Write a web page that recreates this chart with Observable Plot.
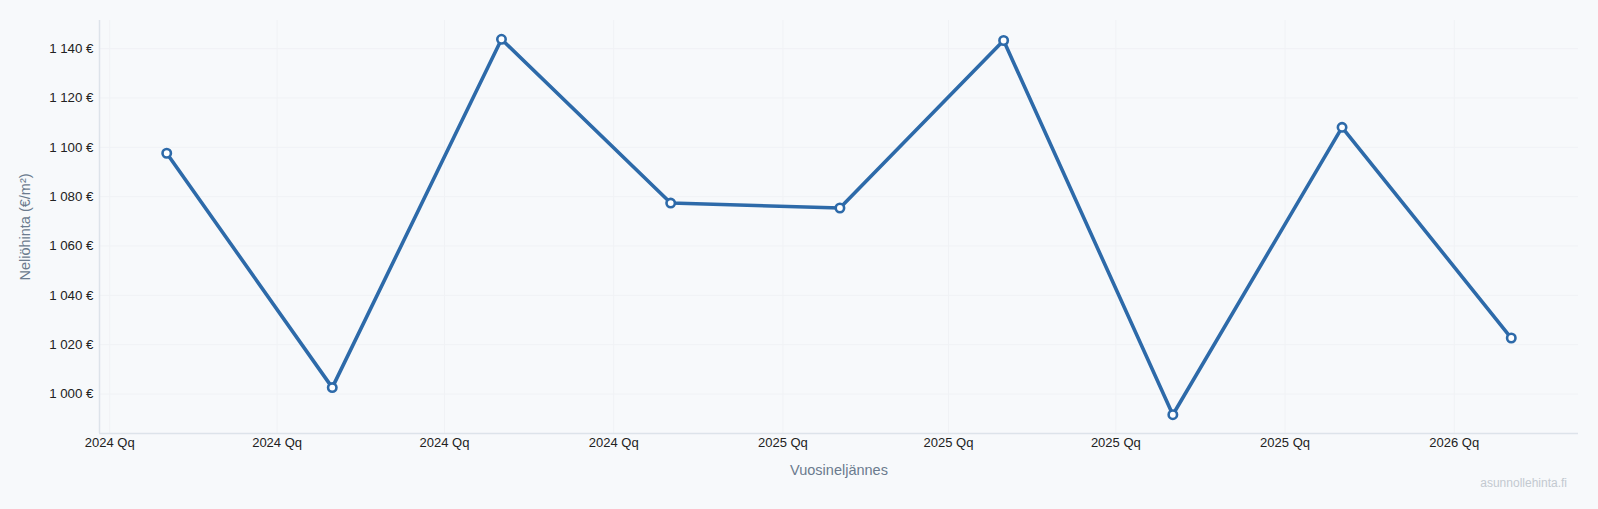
<!DOCTYPE html>
<html><head><meta charset="utf-8">
<script src="https://cdn.jsdelivr.net/npm/d3@7"></script>
<script src="https://cdn.jsdelivr.net/npm/@observablehq/plot@0.6"></script>
<style>
html,body{margin:0;padding:0;background:#f7f9fb;}
#wrap{position:relative;width:1598px;height:509px;background:#f7f9fb;overflow:hidden;}
#wm{position:absolute;right:31px;top:476px;font:12px "Liberation Sans",Arial,sans-serif;color:#c3c9d0;}
</style></head><body>
<div id="wrap"><div id="chart"></div><div id="wm">asunnollehinta.fi</div></div>
<script>
// Data
const quarterDates = ["2024-02-01","2024-05-01","2024-08-01","2024-11-01","2025-02-01","2025-05-01","2025-08-01","2025-11-01","2026-02-01"];
const prices = [1097.6, 1002.6, 1143.8, 1077.4, 1075.4, 1143.3, 991.6, 1108.1, 1022.7];
const yTicks = [1000, 1020, 1040, 1060, 1080, 1100, 1120, 1140];
const xTickSuffix = "Qq";
const xLabel = "Vuosineljännes";
const yLabel = "Neliöhinta (€/m²)";

const data = quarterDates.map((d, i) => ({date: new Date(d + "T00:00:00Z"), price: prices[i]}));

const pad = (lo, hi, f) => { const s = hi - lo; return [lo - s * f, hi + s * f]; };
const [t0, t1] = d3.extent(data, d => +d.date);
const xd = pad(t0, t1, 0.05).map(v => new Date(v));
const [p0, p1] = d3.extent(prices);
const yd = pad(p0, p1, 0.05);
const xTicks = d3.utcMonth.every(3).range(xd[0], xd[1]);

const color = "#2d6aa9";
const gridColor = "#f0f2f5";
const axisColor = "#dde3ea";
const fmtY = v => `${Math.floor(v / 1000)} ${String(v % 1000).padStart(3, "0")} €`;

const chart = Plot.plot({
  width: 1598,
  height: 509,
  marginTop: 20,
  marginBottom: 76,
  marginLeft: 99,
  marginRight: 20,
  style: {background: "#f7f9fb", fontFamily: "'Liberation Sans', Arial, sans-serif", fontSize: "13px", color: "#222"},
  x: {type: "utc", domain: xd},
  y: {domain: yd},
  marks: [
    Plot.gridX(xTicks, {stroke: gridColor, strokeOpacity: 1}),
    Plot.gridY(yTicks, {stroke: gridColor, strokeOpacity: 1}),
    Plot.ruleX([xd[0]], {stroke: axisColor, strokeWidth: 1.5}),
    Plot.ruleY([yd[0]], {stroke: axisColor, strokeWidth: 1.5}),
    Plot.axisX(xTicks, {
      tickSize: 0, tickPadding: 4, fontSize: 13, fill: "#222",
      tickFormat: d => `${d.getUTCFullYear()} ${xTickSuffix}`,
      label: xLabel, labelAnchor: "center", labelArrow: "none", labelOffset: 41
    }),
    Plot.axisY(yTicks, {
      tickSize: 0, tickPadding: 6, fontSize: 13.3, fill: "#222",
      tickFormat: fmtY,
      label: yLabel, labelAnchor: "center", labelArrow: "none", labelOffset: 80
    }),
    Plot.line(data, {x: "date", y: "price", stroke: color, strokeWidth: 3.6, curve: "linear"}),
    Plot.dot(data, {x: "date", y: "price", r: 4.2, fill: "white", stroke: color, strokeWidth: 2.6})
  ]
});
// style axis labels
chart.querySelectorAll("g[aria-label='x-axis label'] text, g[aria-label='y-axis label'] text").forEach(t => {
  t.setAttribute("fill", "#6b7b8e");
  t.style.fontSize = "14.5px";
});
document.getElementById("chart").append(chart);
</script>
</body></html>
